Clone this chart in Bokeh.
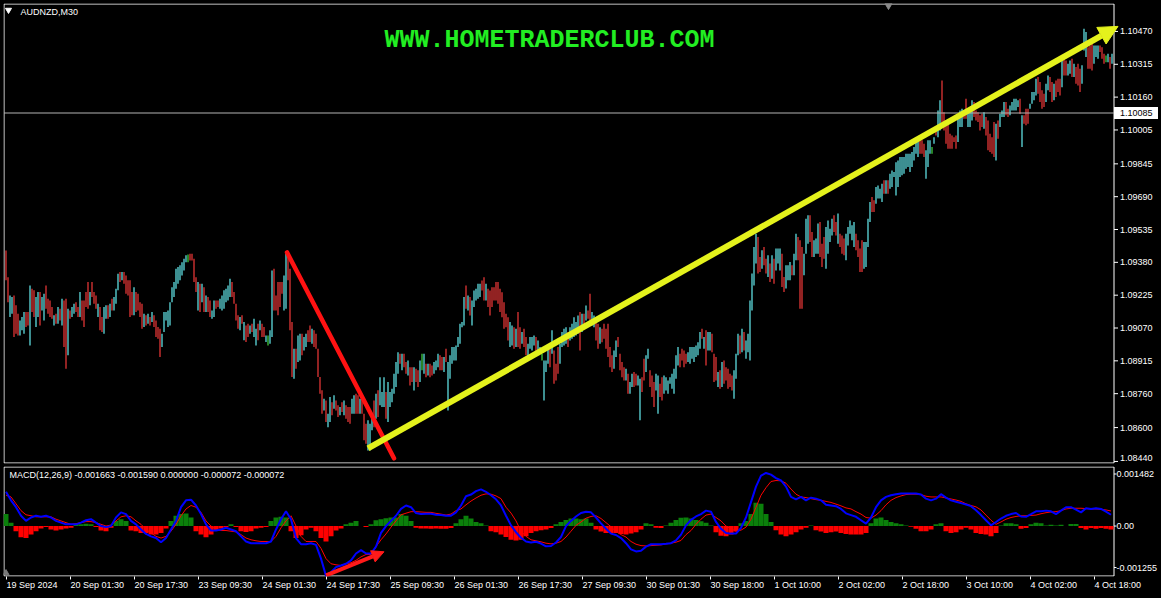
import numpy as np
from bokeh.plotting import figure
from bokeh.layouts import column
from bokeh.models import Range1d, FixedTicker, Label, Arrow, NormalHead, LinearAxis
from bokeh.core.properties import value
from bokeh.embed import file_html
from bokeh.resources import INLINE

# ---------------- texts ----------------
symbol_label = "AUDNZD,M30"
watermark = "WWW.HOMETRADERCLUB.COM"
macd_label = "MACD(12,26,9) -0.001663 -0.001590 0.000000 -0.000072 -0.000072"

# ---------------- price bars (points, 1 point = 0.00001) ----------------
bar_high = [
    109436, 109310, 109224, 109216, 109224, 109177, 109137, 109106, 109122, 109145,
    109145, 109145, 109271, 109255, 109248, 109216, 109240, 109240, 109216, 109232,
    109271, 109208, 109200, 109169, 109130, 109137, 109169, 109161, 109208, 109200,
    109208, 109161, 109153, 109169, 109185, 109192, 109169, 109240, 109200, 109200,
    109240, 109287, 109240, 109287, 109240, 109224, 109185, 109169, 109122, 109169,
    109177, 109177, 109185, 109208, 109216, 109255, 109326, 109334, 109334, 109334,
    109318, 109295, 109295, 109240, 109263, 109240, 109232, 109192, 109185, 109137,
    109130, 109137, 109122, 109145, 109130, 109106, 109075, 109067, 109043, 109145,
    109145, 109153, 109192, 109263, 109287, 109350, 109358, 109366, 109381, 109397,
    109413, 109417, 109421, 109421, 109397, 109310, 109287, 109279, 109279, 109263,
    109224, 109216, 109200, 109153, 109200, 109200, 109200, 109208, 109224, 109248,
    109255, 109271, 109303, 109287, 109240, 109185, 109130, 109122, 109130, 109098,
    109082, 109090, 109082, 109090, 109114, 109067, 109090, 109106, 109090, 109075,
    109035, 109035, 109059, 109342, 109350, 109224, 109287, 109287, 109287, 109318,
    109421, 109421, 109350, 109098, 108972, 108972, 109035, 109043, 109043, 109027,
    109043, 109059, 109082, 109067, 109059, 109043, 108972, 108839, 108776, 108736,
    108728, 108665, 108744, 108720, 108752, 108728, 108705, 108697, 108720, 108728,
    108705, 108697, 108697, 108736, 108752, 108760, 108752, 108736, 108736, 108665,
    108618, 108634, 108618, 108650, 108728, 108760, 108776,
    108838, 108768, 108838, 108768, 108815, 108768, 108783, 108854, 108909, 108956,
    108948, 108948, 108948, 108909, 108917, 108885, 108885, 108885, 108878, 108870,
    108917, 108948, 108948, 108901, 108901, 108901, 108893, 108909, 108917, 108948,
    108941, 108933, 108933, 108972, 108909, 108941, 108980, 108980, 108988, 109027,
    109090, 109098, 109216, 109271, 109224, 109216, 109200, 109247, 109255, 109279,
    109279, 109294, 109310, 109279, 109255, 109247, 109263, 109263, 109287, 109287,
    109255, 109239, 109192, 109137, 109121, 109098, 109082, 109074, 109066, 109145,
    109074, 109051, 109066, 109027, 108996, 109027, 109027, 109035, 109027, 109011,
    108980, 108948, 108917, 108917, 108980, 108972, 109059, 108964, 108901, 108980,
    108996, 109051, 109066, 109074, 109051, 109074, 109090, 109121, 109098, 109129,
    109145, 109137, 109137, 109176, 109153, 109232, 109145, 109129, 109106, 109090,
    109074, 109066, 109090, 109066, 109090, 108980, 108941, 108964, 109011, 109027,
    108948, 108909, 108885, 108878, 108854, 108815, 108854, 108862, 108854, 108846,
    108830, 108838, 108925, 108941, 108972, 108870, 108846, 108815, 108854, 108846,
    108807, 108838, 108846, 108838, 108822, 108838, 108854, 108878, 108941, 108980,
    108948, 108972, 108964, 108948, 108956, 108980, 108980, 108980, 108988, 109003,
    109051, 109066, 109027, 109059, 109051, 109051, 109043, 108948, 108933, 108862,
    108870, 108909, 108917, 108885, 108878, 108854, 108846, 108870, 108948, 109043,
    109035, 109066, 109051, 109011, 109043, 109200,
    109327, 109452, 109515, 109500, 109405, 109437, 109452, 109397, 109413, 109374,
    109413, 109397, 109445, 109445, 109445, 109421, 109311, 109366, 109366, 109382,
    109366, 109421, 109515, 109500, 109484, 109452, 109421, 109586, 109602, 109602,
    109523, 109484, 109492, 109563, 109570, 109468, 109500, 109547, 109578, 109539,
    109586, 109602, 109570, 109610, 109515, 109507, 109492, 109515, 109547, 109578,
    109555, 109570, 109515, 109484, 109445, 109484, 109476, 109476, 109586, 109665,
    109688, 109673, 109736, 109743, 109728, 109751, 109767, 109767, 109767, 109798,
    109814, 109806, 109853, 109861, 109877, 109877, 109877, 109893, 109893, 109893,
    109901, 109924, 109956, 109971, 109956, 109956, 109940, 109909, 109956, 109956,
    109924, 109971, 110019, 110097, 110145, 110239, 110089, 110050, 110034, 109987,
    109979, 109971, 109979, 110066, 110097, 110105, 110097, 110152, 110097, 110113,
    110145, 110137, 110097, 110089, 110074, 110082, 110089, 110066, 110050, 109987,
    109971, 110042, 110034, 110050, 110082, 110097, 110137, 110137, 110105, 110121,
    110137, 110152, 110152, 110145, 110152, 110074, 110074, 110105, 110105, 110129,
    110184, 110184, 110247, 110255, 110231, 110192, 110176, 110223, 110262, 110255,
    110231, 110223, 110239, 110247, 110247, 110341, 110357, 110333, 110318, 110333,
    110341, 110318, 110302, 110318, 110294, 110310, 110483, 110467, 110396, 110404,
    110412, 110404, 110404, 110404, 110404, 110396, 110365, 110357, 110365, 110349,
    110365,
]
bar_low = [
    109295, 109192, 109122, 109137, 109027, 109043, 109035, 109035, 109059, 109043,
    109075, 109082, 108988, 109145, 109122, 109075, 109122, 109082, 109153, 109106,
    109161, 109137, 109122, 109114, 109082, 109090, 109090, 109106, 109082, 108980,
    108878, 108941, 109114, 109122, 109137, 109145, 109122, 109122, 109106, 109075,
    109169, 109161, 109177, 109216, 109185, 109161, 109122, 109059, 109051, 109043,
    109114, 109114, 109122, 109153, 109153, 109185, 109248, 109287, 109295, 109279,
    109232, 109224, 109122, 109130, 109130, 109145, 109153, 109122, 109067, 109075,
    109082, 109090, 109082, 109098, 109075, 109027, 109019, 108933, 108980, 109051,
    109106, 109075, 109082, 109192, 109216, 109255, 109279, 109295, 109318, 109342,
    109381, 109381, 109389, 109389, 109287, 109240, 109153, 109145, 109192, 109145,
    109145, 109145, 109122, 109114, 109122, 109161, 109169, 109161, 109153, 109161,
    109192, 109200, 109216, 109216, 109185, 109106, 109067, 109059, 109090, 109012,
    109004, 109027, 109043, 109051, 109027, 108988, 109012, 109059, 109027, 109027,
    109004, 108988, 108996, 109027, 109153, 109153, 109130, 109169, 109232, 109153,
    109161, 109295, 109059, 108839, 108831, 108878, 108909, 108917, 108941, 108964,
    108980, 109004, 109004, 108996, 108980, 108972, 108839, 108760, 108665, 108681,
    108626, 108602, 108626, 108658, 108689, 108681, 108650, 108658, 108673, 108658,
    108642, 108626, 108618, 108665, 108665, 108665, 108665, 108665, 108665, 108540,
    108524, 108492, 108492, 108587, 108602, 108642, 108650,
    108705, 108697, 108697, 108642, 108626, 108697, 108720, 108760, 108791, 108854,
    108901, 108870, 108885, 108854, 108846, 108799, 108815, 108775, 108815, 108791,
    108815, 108870, 108854, 108838, 108846, 108838, 108846, 108854, 108870, 108885,
    108870, 108870, 108862, 108909, 108681, 108830, 108901, 108917, 108917, 108980,
    108996, 109074, 109082, 109161, 109153, 109129, 109082, 109169, 109200, 109208,
    109216, 109247, 109200, 109200, 109169, 109129, 109169, 109200, 109200, 109184,
    109145, 109121, 109066, 109074, 109011, 108980, 108988, 108972, 108980, 108980,
    108972, 108996, 108980, 108941, 108933, 108972, 108964, 108988, 108948, 108941,
    108948, 108917, 108728, 108862, 108901, 108885, 108948, 108807, 108822, 108854,
    108901, 108980, 108988, 108996, 108980, 109011, 109019, 109027, 109035, 109043,
    108964, 109051, 109074, 109106, 109114, 109106, 109082, 109074, 109011, 108972,
    108996, 109003, 109019, 108972, 108933, 108885, 108862, 108878, 108933, 108980,
    108870, 108838, 108822, 108822, 108760, 108760, 108791, 108791, 108799, 108799,
    108634, 108768, 108822, 108862, 108925, 108791, 108744, 108697, 108775, 108665,
    108744, 108728, 108760, 108775, 108760, 108807, 108783, 108760, 108830, 108893,
    108885, 108917, 108885, 108901, 108909, 108901, 108925, 108909, 108933, 108941,
    108972, 109019, 108972, 108893, 108964, 108964, 108956, 108815, 108822, 108791,
    108783, 108791, 108807, 108822, 108783, 108791, 108775, 108736, 108830, 108941,
    108948, 108956, 108964, 108925, 108956, 108917,
    109153, 109271, 109374, 109327, 109334, 109350, 109366, 109327, 109311, 109287,
    109303, 109279, 109342, 109374, 109342, 109264, 109240, 109256, 109295, 109295,
    109319, 109319, 109390, 109390, 109161, 109161, 109319, 109421, 109468, 109476,
    109405, 109405, 109421, 109421, 109405, 109358, 109397, 109350, 109421, 109476,
    109507, 109523, 109507, 109468, 109452, 109421, 109413, 109390, 109460, 109515,
    109484, 109452, 109437, 109405, 109334, 109334, 109350, 109358, 109452, 109570,
    109618, 109618, 109657, 109681, 109681, 109665, 109704, 109704, 109704, 109728,
    109736, 109783, 109696, 109736, 109783, 109791, 109798, 109822, 109830, 109806,
    109830, 109861, 109893, 109877, 109893, 109893, 109877, 109775, 109830, 109893,
    109893, 109940, 109979, 109971, 110003, 110034, 110003, 109940, 109916, 109916,
    109916, 109948, 109916, 109948, 110019, 110019, 110058, 110058, 110019, 110019,
    110050, 110066, 110050, 110042, 110003, 110019, 110011, 109979, 109909, 109901,
    109893, 109877, 109861, 109964, 110019, 110066, 110066, 110074, 110066, 110074,
    110097, 110097, 110097, 110113, 110082, 109924, 110034, 110027, 110034, 110105,
    110129, 110145, 110168, 110176, 110137, 110105, 110113, 110137, 110192, 110184,
    110137, 110145, 110160, 110184, 110168, 110207, 110262, 110262, 110262, 110270,
    110255, 110255, 110223, 110215, 110184, 110223, 110380, 110349, 110294, 110294,
    110286, 110318, 110349, 110341, 110373, 110341, 110318, 110325, 110325, 110294,
    110318,
]
# u = bull bar, d = bear bar, n = unchanged
bar_dir = (
    "dduuddduuu" "ddudduuduu" "ddddududud" "duduuddudd" "dduddduddu"
    "ududuuudud" "dddduddddu" "dududddduu" "uuuuuuuuuu" "unddddudud"
    "udduudduuu" "uuuddddudu" "dduduududd" "unuudddddu" "uddduduudu"
    "uddudddddu" "duududdudu" "ddduuddudd" "duuudud"
    "uuuduuuuuu" "dudduddudd" "unududduuu" "dduduuuuuu" "uuududuuuu"
    "uddudddddd" "ddddduudud" "dudduuuudu" "unuuududdd" "uuuuduuuuu"
    "dududduudd" "udddddduud" "ddduduuddu" "udduuddduu" "dduuuuuuuu"
    "dddduuuuuu" "ududuudddu" "duddddduuu" "duduuu"
    "uuudduddud" "uduuudduuu" "duuddduuud" "duuuddduuu" "udduddduuu"
    "uudddduuuu" "dduuuududu" "uuuuuuuuuu" "uuuuddduuu" "nuduuddddd"
    "ddduuudduu" "uddddduddd" "dduduuuddu" "uuuududddu" "uuudddduud"
    "dudddudduu" "duddduuudd" "duuudddnud" "u"
)
bid_price = 110085
price_ticks = [110470, 110315, 110160, 110005, 109845, 109690, 109535,
               109380, 109225, 109070, 108915, 108760, 108600, 108440]
price_top = 110602
price_per_px = 4.721

time_labels = ["19 Sep 2024", "20 Sep 01:30", "20 Sep 17:30", "23 Sep 09:30",
               "24 Sep 01:30", "24 Sep 17:30", "25 Sep 09:30", "26 Sep 01:30",
               "26 Sep 17:30", "27 Sep 09:30", "30 Sep 01:30", "30 Sep 18:00",
               "1 Oct 10:00", "2 Oct 02:00", "2 Oct 18:00", "3 Oct 10:00",
               "4 Oct 02:00", "4 Oct 18:00"]
time_label_bars = [0, 32, 64, 96, 128, 160, 192, 224, 256, 288, 320, 352,
                   384, 416, 448, 480, 512, 544]

# ---------------- MACD (units of 1e-6), one sample every 2.5 bars ----------------
macd_step = 2.5
macd_main = [
    853, 640, 469, 256, 128, 213, 256, 230, 256, 213,
    128, 85, 43, 43, 43, 85, 145, 171, 85, 0,
    -26, 0, 213, 341, 298, 128, 43, -85, -196, -256,
    -298, -401, -298, -85, 128, 469, 640, 657, 512, 298,
    43, -111, -111, -85, -43, -85, -128, -256, -384, -426,
    -426, -426, -426, -384, -85, 171, 367, 171, -298, -452,
    -452, -426, -469, -810, -1240, -1151, -1023, -981, -938, -853,
    -682, -597, -682, -682, -512, -171, 0, 128, 256, 426,
    512, 469, 324, 298, 307, 307, 281, 273, 256, 256,
    341, 512, 742, 784, 870, 912, 853, 767, 665, 512,
    256, 17, -153, -290, -384, -409, -392, -435, -503, -495,
    -409, -273, 0, 128, 239, 324, 358, 341, 213, 68,
    -68, -188, -222, -298, -426, -580, -631, -614, -512, -452,
    -452, -452, -443, -426, -358, -213, 17, 153, 239, 298,
    384, 358, 102, -68, -171, -188, -188, -43, 213, 597,
    981, 1253, 1322, 1279, 1194, 1134, 981, 725, 665, 725,
    640, 708, 682, 640, 529, 512, 495, 426, 316, 273,
    230, 145, 60, 213, 469, 640, 725, 767, 793, 810,
    810, 810, 810, 784, 682, 640, 682, 793, 708, 640,
    605, 571, 537, 495, 392, 273, 145, 17, 102, 188,
    256, 298, 324, 239, 230, 298, 367, 367, 384, 367,
    298, 384, 469, 469, 409, 341, 443, 426, 443, 426,
    358, 281,
]
macd_signal = [
    767, 725, 554, 384, 281, 256, 230, 230, 230, 230,
    171, 128, 85, 43, 60, 85, 111, 111, 85, 43,
    0, 26, 128, 230, 256, 230, 128, 43, -85, -171,
    -256, -298, -256, -128, 43, 256, 426, 512, 469, 341,
    128, 0, -85, -111, -111, -128, -145, -213, -298, -341,
    -367, -384, -384, -384, -256, -43, 128, 256, 0, -256,
    -384, -384, -384, -554, -810, -938, -964, -981, -938, -912,
    -853, -767, -708, -708, -512, -341, -196, -26, 128, 281,
    320, 358, 358, 350, 341, 341, 316, 298, 273, 298,
    384, 426, 529, 622, 699, 767, 801, 793, 750, 682,
    469, 324, 128, -128, -256, -341, -367, -392, -426, -443,
    -426, -384, -273, -128, 17, 102, 196, 239, 256, 188,
    85, -17, -136, -213, -273, -384, -452, -486, -495, -486,
    -478, -469, -443, -426, -401, -358, -213, -111, 43, 171,
    273, 298, 213, 128, 0, -68, -128, -102, -26, 171,
    469, 767, 955, 1109, 1134, 1126, 1066, 921, 793, 725,
    708, 682, 657, 640, 614, 588, 546, 503, 452, 426,
    358, 298, 213, 196, 273, 384, 529, 640, 708, 750,
    784, 793, 793, 784, 742, 725, 725, 725, 699, 674,
    648, 614, 554, 512, 478, 401, 273, 145, 43, 102,
    171, 213, 239, 256, 256, 264, 273, 307, 333, 350,
    358, 384, 426, 443, 443, 443, 435, 426, 426, 418,
    401, 375,
]
macd_hist = [
    298, 85, -128, -281, -298, -213, -128, -60, -26, -85,
    -111, -85, -60, -43, 43, 43, 60, 43, -26, -111,
    -128, -43, 128, 171, 128, -111, -128, -171, -171, -213,
    -213, -171, -60, 128, 256, 298, 315, 213, -128, -213,
    -281, -213, -111, -60, -26, 43, -26, -128, -145, -128,
    -60, -43, -26, 128, 213, 230, 213, -128, -298, -230,
    -85, -43, -128, -298, -384, -256, -111, -60, 43, 85,
    128, 0, -26, 43, 145, 171, 196, 213, 213, 298,
    256, 128, -43, -60, -60, -68, -60, -68, -68, -51,
    68, 171, 256, 188, 102, 68, 17, -128, -153, -213,
    -273, -341, -358, -341, -256, -171, -128, -102, -85, -51,
    43, 102, 153, 188, 188, 171, 188, 85, -85, -136,
    -171, -171, -171, -196, -213, -188, -153, -85, 68, 43,
    -43, -51, 17, 85, 153, 205, 213, 188, 153, 119,
    85, 17, -153, -239, -256, -213, -136, 68, 128, 298,
    580, 554, 298, 102, -102, -213, -256, -213, -153, -85,
    -43, 17, -102, -136, -171, -153, -136, -171, -196, -213,
    -213, -213, -171, 68, 188, 213, 153, 102, 68, 43,
    17, -17, -68, -128, -128, -85, 43, 68, -128, -171,
    -153, -85, -43, -85, -171, -196, -213, -256, -171, 17,
    68, 68, 43, -68, -51, 43, 85, 68, 17, 34,
    17, 34, 0, 51, 51, -51, -85, -51, -68, -51,
    -68, -85,
]
macd_max = 1482
macd_min = -1255

# hand-drawn objects on the chart (bar index, value)
trend_up = [(181, 108502), (556, 110494)]
trend_down = [(140.5, 109427), (194, 108455)]
macd_arrow = [(160, -1228), (189, -640)]

# ---------------- geometry & styles ----------------
FONT = "Liberation Sans"
BULL, BEAR, FLAT = "#66eef2", "#f43a3a", "#44dd44"
YELLOW = "#e4f21c"
PPB = 2.0                  # pixels per bar
LEFT = 3
CHART_W = 1111             # width of the bar area
SCALE_W = 46               # price scale column
FRAME_W = CHART_W + SCALE_W
MAIN_H, MACD_H = 460, 110
X0 = -1.25
x_lo, x_hi = X0, X0 + FRAME_W / PPB
chart_left = X0 + 0.5 / PPB
chart_right = X0 + (CHART_W - 0.5) / PPB

n = min(len(bar_high), len(bar_low))
dirs = bar_dir[:n].ljust(n, "u")
xs = np.arange(n)
cmap = {"u": BULL, "d": BEAR, "n": FLAT}
colors = [cmap[c] for c in dirs]

common = dict(output_backend="svg", toolbar_location=None,
              background_fill_color="black", border_fill_color="black",
              outline_line_color=None, min_border_left=LEFT, min_border_right=0,
              y_axis_location=None)

# ---------------- main price panel ----------------
ppp = price_per_px
p_hi = price_top
p_lo = p_hi - MAIN_H * ppp
main = figure(frame_width=FRAME_W, frame_height=MAIN_H,
              x_range=Range1d(x_lo, x_hi), y_range=Range1d(p_lo, p_hi),
              x_axis_location=None, min_border_top=3, min_border_bottom=3, **common)
main.grid.visible = False

# panel border
main.quad(left=[chart_left], right=[chart_right], bottom=[p_lo + 0.5 * ppp],
          top=[p_hi - 0.5 * ppp], fill_color=None, line_color="white", line_width=1)

main.segment(x0=xs, y0=bar_low[:n], x1=xs, y1=bar_high[:n], line_color=colors, line_width=1.2)

# bid line
main.segment(x0=[chart_left], x1=[chart_right], y0=[bid_price], y1=[bid_price],
             line_color="#b4b4b4", line_width=1)

# price scale
nt = len(price_ticks)
main.segment(x0=[chart_right] * nt, x1=[chart_right + 4 / PPB] * nt,
             y0=price_ticks, y1=price_ticks, line_color="white", line_width=1)
label_y = [max(t, p_lo + 5.5 * ppp) for t in price_ticks]
main.text(x=[chart_right + 6 / PPB] * nt, y=label_y,
          text=[f"{t / 1e5:.5f}" for t in price_ticks], text_color="white",
          text_font=value(FONT), text_font_size=value("9px"),
          text_baseline="middle", text_align="left")
main.quad(left=[chart_right], right=[chart_right + 44 / PPB],
          bottom=[bid_price - 6 * ppp], top=[bid_price + 6 * ppp],
          fill_color="white", line_color=None)
main.text(x=[chart_right + 6 / PPB], y=[bid_price], text=[f"{bid_price / 1e5:.5f}"],
          text_color="black", text_font=value(FONT), text_font_size=value("9px"),
          text_baseline="middle", text_align="left")

# header
main.scatter(x=[1.25], y=[p_hi - 6.5 * ppp], marker="inverted_triangle",
             size=6, fill_color="white", line_color="white")
main.add_layout(Label(x=7.25, y=p_hi - 8 * ppp, text=symbol_label,
                      text_color="white", text_font=FONT, text_font_size="9px",
                      text_baseline="middle"))
main.scatter(x=[441.25], y=[p_hi - 2 * ppp], marker="inverted_triangle", size=7,
             fill_color="#8a8a8a", line_color="#8a8a8a")
main.add_layout(Label(x=271.75, y=p_hi - 37 * ppp, text=watermark, text_color="#22ee22",
                      text_font="Liberation Mono", text_font_style="bold",
                      text_font_size="25px", text_align="center", text_baseline="middle"))

# trend lines
(tdx0, tdy0), (tdx1, tdy1) = trend_down
main.line(x=[tdx0, tdx1], y=[tdy0, tdy1], line_color="#ff1212", line_width=4.5, line_cap="round")
(tux0, tuy0), (tux1, tuy1) = trend_up
main.add_layout(Arrow(x_start=tux0, y_start=tuy0, x_end=tux1, y_end=tuy1,
                      line_color=YELLOW, line_width=6,
                      end=NormalHead(size=19, fill_color=YELLOW, line_color=YELLOW)))

# ---------------- MACD panel ----------------
mppx = (macd_max - macd_min) / MACD_H
macd = figure(frame_width=FRAME_W, frame_height=MACD_H,
              x_range=Range1d(x_lo, x_hi), y_range=Range1d(macd_min, macd_max),
              min_border_top=0, min_border_bottom=0, **common)
macd.grid.visible = False
macd.quad(left=[chart_left], right=[chart_right], bottom=[macd_min + 0.5 * mppx],
          top=[macd_max - 0.5 * mppx], fill_color=None, line_color="white", line_width=1)

mx = np.arange(len(macd_hist)) * macd_step
hcol = ["#0b800b" if v >= 0 else "#ff0000" for v in macd_hist]
macd.vbar(x=mx, top=macd_hist, bottom=0, width=macd_step, fill_color=hcol, line_color=None)
macd.line(x=np.arange(len(macd_signal)) * macd_step, y=macd_signal, line_color="#ff0000", line_width=1)
macd.line(x=np.arange(len(macd_main)) * macd_step, y=macd_main, line_color="#0000ff", line_width=2)

(ax0, ay0), (ax1, ay1) = macd_arrow
macd.add_layout(Arrow(x_start=ax0, y_start=ay0, x_end=ax1, y_end=ay1,
                      line_color="#ff1a1a", line_width=4,
                      end=NormalHead(size=12, fill_color="#ff1a1a", line_color="#ff1a1a")))

macd.add_layout(Label(x=1.75, y=macd_max - 8 * mppx, text=macd_label,
                      text_color="white", text_font=FONT, text_font_size="9px",
                      text_baseline="middle"))
macd.scatter(x=[0.0], y=[macd_min + 3.5 * mppx], marker="triangle", size=6,
             fill_color="#7a7a7a", line_color="#7a7a7a")

# MACD scale
m_ticks = [macd_max - 7.5 * mppx, 0, macd_min + 9 * mppx]
m_texts = [f"{macd_max / 1e6:.6f}", "0.00", f"{macd_min / 1e6:.6f}"]
macd.segment(x0=[chart_right] * 3, x1=[chart_right + 2.5 / PPB] * 3, y0=m_ticks, y1=m_ticks,
             line_color="white", line_width=1)
macd.text(x=[chart_right + 2.5 / PPB] * 3, y=m_ticks, text=m_texts, text_color="white",
          text_font=value(FONT), text_font_size=value("9px"),
          text_baseline="middle", text_align="left")


# time axis: tick marks at the bars, labels start right at each tick
def text_width(s, size=9.0):
    adv = {" ": 0.278, ":": 0.278, ".": 0.278, "S": 0.667, "O": 0.778,
           "e": 0.556, "p": 0.556, "c": 0.5, "t": 0.278}
    return sum(adv.get(ch, 0.556) for ch in s) * size


tick_axis = macd.xaxis[0]
tick_axis.ticker = FixedTicker(ticks=time_label_bars)
tick_axis.major_label_overrides = {b: "" for b in time_label_bars}
tick_axis.major_label_text_font_size = "1px"
tick_axis.major_label_standoff = 0
tick_axis.axis_line_color = None
tick_axis.major_tick_line_color = "white"
tick_axis.major_tick_in = 0
tick_axis.major_tick_out = 3
tick_axis.minor_tick_line_color = None

label_pos = [round(b + (text_width(t) / 2 + 0.5) / PPB, 3)
             for b, t in zip(time_label_bars, time_labels)]
label_axis = LinearAxis(ticker=FixedTicker(ticks=label_pos),
                        major_label_overrides={pos: t for pos, t in zip(label_pos, time_labels)},
                        axis_line_color=None, major_tick_line_color=None,
                        major_tick_in=0, major_tick_out=0, minor_tick_line_color=None,
                        major_label_text_color="white", major_label_text_font=FONT,
                        major_label_text_font_size="9px", major_label_standoff=0)
macd.add_layout(label_axis, "below")

layout = column(main, macd, spacing=0)
html = file_html(layout, INLINE)
html = html.replace("</head>", "<style>html,body{background:#000000;}</style></head>", 1)
open("out.html", "w").write(html)
